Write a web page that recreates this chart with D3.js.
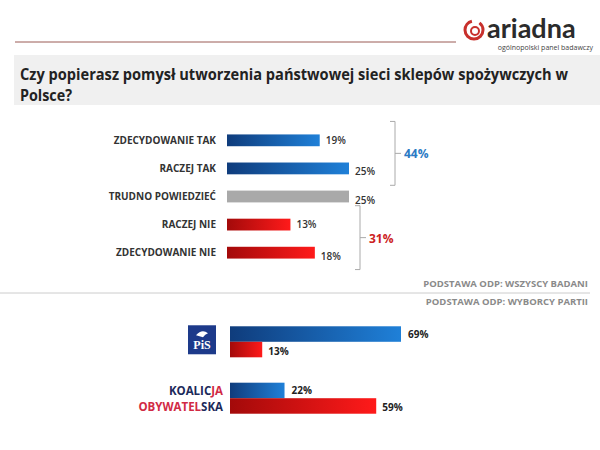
<!DOCTYPE html>
<html><head><meta charset="utf-8">
<script src="https://cdn.jsdelivr.net/npm/d3@7"></script>
<style>body{margin:0;background:#fff}svg{font-family:"Open Sans",sans-serif}</style>
</head><body><div id="visualization"></div>
<script>
const answers = ["ZDECYDOWANIE TAK","RACZEJ TAK","TRUDNO POWIEDZIEĆ","RACZEJ NIE","ZDECYDOWANIE NIE"];
const answerValues = [19,25,25,13,18];
const answerKind = ["yes","yes","neutral","no","no"];
const parties = ["PiS","KO"];
const partyYes = [69,22];
const partyNo = [13,59];
const totals = [{label:"44%", kind:"yes", from:0, to:1}, {label:"31%", kind:"no", from:3, to:4}];

const width = 600, height = 450;
const svg = d3.select("#visualization").append("svg")
  .attr("width", width).attr("height", height);

const defs = svg.append("defs");
function grad(id, a, b){
  const g = defs.append("linearGradient").attr("id", id);
  g.append("stop").attr("offset","0%").attr("stop-color",a);
  g.append("stop").attr("offset","100%").attr("stop-color",b);
}
grad("yes","#0f3c7c","#1f80d8");
grad("no","#a30a0a","#ff1a1a");
const fill = {yes:"url(#yes)", no:"url(#no)", neutral:"#a9a9a9"};

// header
svg.append("line").attr("x1",15).attr("x2",456).attr("y1",42).attr("y2",42)
  .attr("stroke","#9a5a55").attr("stroke-width",1);
const logo = svg.append("g");
logo.append("circle").attr("cx",474).attr("cy",30).attr("r",9).attr("fill","none")
  .attr("stroke","#c8302c").attr("stroke-width",3).attr("stroke-dasharray","40 8");
logo.append("circle").attr("cx",475).attr("cy",31).attr("r",4).attr("fill","none")
  .attr("stroke","#c8302c").attr("stroke-width",2);
logo.append("text").attr("x",487).attr("y",38).attr("font-size",27).attr("font-weight","bold")
  .attr("fill","#2b2b2b").attr("font-family","Lato, sans-serif").text("ariadna");
logo.append("text").attr("x",593).attr("y",50).attr("text-anchor","end").attr("font-size",7)
  .attr("fill","#444").text("ogólnopolski panel badawczy");

svg.append("rect").attr("x",14).attr("y",55).attr("width",586).attr("height",50).attr("fill","#f0f0f0");
svg.append("text").attr("x",20).attr("y",80).attr("font-size",15.5).attr("font-weight","bold")
  .attr("textLength",548).attr("lengthAdjust","spacingAndGlyphs")
  .attr("fill","#222").text("Czy popierasz pomysł utworzenia państwowej sieci sklepów spożywczych w");
svg.append("text").attr("x",20).attr("y",101).attr("font-size",15.5).attr("font-weight","bold")
  .attr("textLength",52).attr("lengthAdjust","spacingAndGlyphs")
  .attr("fill","#222").text("Polsce?");

// top chart
const x1 = d3.scaleLinear().domain([0,25]).range([227,349]);
const y1 = d3.scaleBand().domain(answers).range([126,267]).paddingInner(0.58).paddingOuter(0.3);
const upper = svg.append("g");
upper.selectAll("rect").data(answers).join("rect")
  .attr("x", x1(0)).attr("y", d => y1(d))
  .attr("width", (d,i) => x1(answerValues[i]) - x1(0)).attr("height", y1.bandwidth())
  .attr("fill", (d,i) => fill[answerKind[i]]);
upper.selectAll(".lab").data(answers).join("text").attr("class","lab")
  .attr("x",216).attr("y", d => y1(d)+y1.bandwidth()/2+3.5).attr("text-anchor","end")
  .attr("font-size",10).attr("font-weight","bold").attr("fill","#333").text(d => d);
upper.selectAll(".val").data(answers).join("text").attr("class","val")
  .attr("x",(d,i) => x1(answerValues[i])+6)
  .attr("y",(d,i) => y1(d)+y1.bandwidth()/2+(i===1||i===2||i===4?7:3.5))
  .attr("font-size",10).attr("font-weight",600).attr("fill","#333").text((d,i) => answerValues[i]+"%");

const totalColor = {yes:"#2a7ac4", no:"#cc2222"};
totals.forEach((t,k) => {
  const bx = k===0 ? 390 : 355;
  const ya = y1(answers[t.from]) - 13, yb = y1(answers[t.to]) + y1.bandwidth() + 11;
  const ym = (ya+yb)/2;
  svg.append("path").attr("d",`M${bx},${ya} h5 V${yb} h-5 M${bx+5},${ym} h6`)
    .attr("fill","none").attr("stroke","#aaa").attr("stroke-width",1);
  svg.append("text").attr("x",bx+14).attr("y",ym+5).attr("font-size",12).attr("font-weight","bold")
    .attr("fill",totalColor[t.kind]).text(t.label);
});

svg.append("text").attr("x",588).attr("y",287).attr("text-anchor","end").attr("font-size",9.5)
  .attr("font-weight","bold").attr("fill","#8a8a8a").text("PODSTAWA ODP: WSZYSCY BADANI");
svg.append("line").attr("x1",0).attr("x2",590).attr("y1",293).attr("y2",293).attr("stroke","#ccc");
svg.append("text").attr("x",588).attr("y",305).attr("text-anchor","end").attr("font-size",9.5)
  .attr("font-weight","bold").attr("fill","#8a8a8a").text("PODSTAWA ODP:  WYBORCY PARTII");

// bottom chart
const x2 = d3.scaleLinear().domain([0,69]).range([230,401]);
const y2 = d3.scaleBand().domain(parties).range([315,425]).paddingInner(0.45).paddingOuter(0.2);
const bh = y2.bandwidth()/2;
const bot = svg.append("g");
parties.forEach((p,i) => {
  const y = y2(p);
  bot.append("rect").attr("x",x2(0)).attr("y",y).attr("width",x2(partyYes[i])-x2(0)).attr("height",bh).attr("fill",fill.yes);
  bot.append("rect").attr("x",x2(0)).attr("y",y+bh).attr("width",x2(partyNo[i])-x2(0)).attr("height",bh).attr("fill",fill.no);
  bot.append("text").attr("x",x2(partyYes[i])+7).attr("y",y+bh/2+4).attr("font-size",10).attr("font-weight","bold")
    .attr("fill","#222").text(partyYes[i]+"%");
  bot.append("text").attr("x",x2(partyNo[i])+6).attr("y",y+bh*1.5+5).attr("font-size",10).attr("font-weight","bold")
    .attr("fill","#222").text(partyNo[i]+"%");
});
// PiS logo
const py = y2("PiS");
svg.append("rect").attr("x",188).attr("y",py-1).attr("width",28).attr("height",29).attr("fill","#1d3a8a");
svg.append("text").attr("x",202).attr("y",py+23).attr("text-anchor","middle").attr("font-size",12)
  .attr("font-family","Liberation Serif, serif").attr("font-weight","bold").attr("fill","#fff").text("PiS");
svg.append("path").attr("d",`M196,${py+9} q6,-7 12,-2 q-3,1 -5,4 z`).attr("fill","#fff");
// KO text
const ky = y2("KO");
const ko1 = svg.append("text").attr("x",223).attr("y",ky+12).attr("text-anchor","end").attr("font-size",11.5)
  .attr("font-weight","bold").attr("fill","#1c2a5a");
ko1.append("tspan").text("KOALIC");
ko1.append("tspan").attr("fill","#d12a44").text("JA");
const ko2 = svg.append("text").attr("x",223).attr("y",ky+28).attr("text-anchor","end").attr("font-size",11.5)
  .attr("font-weight","bold").attr("fill","#d12a44");
ko2.append("tspan").text("OBYWATEL");
ko2.append("tspan").attr("fill","#1c2a5a").text("SKA");
</script></body></html>
